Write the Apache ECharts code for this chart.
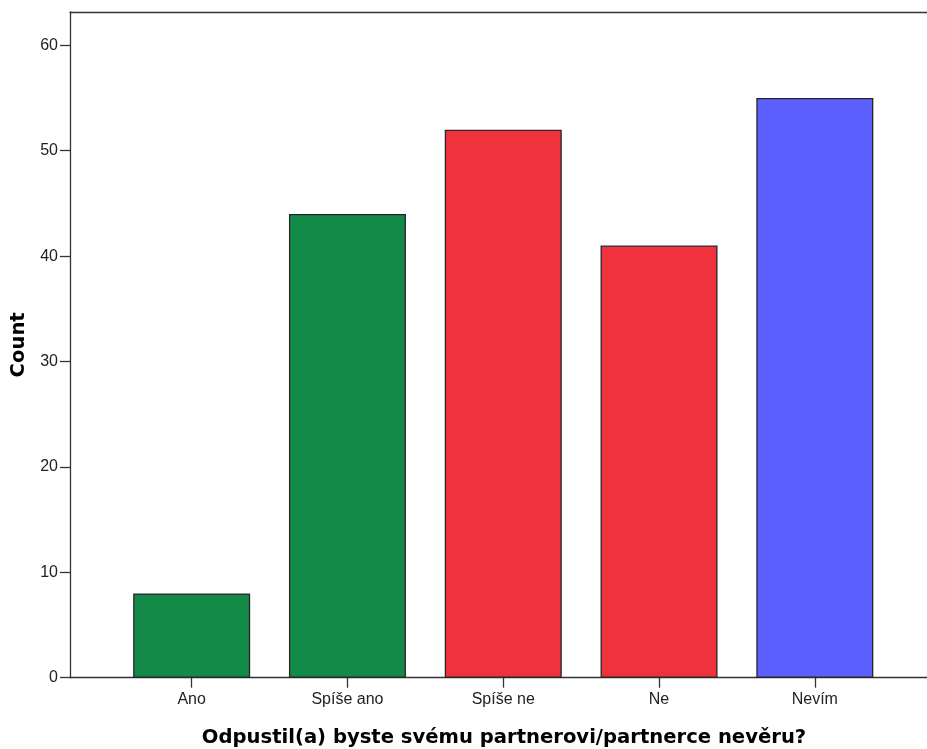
<!DOCTYPE html>
<html>
<head>
<meta charset="utf-8">
<script src="https://cdn.jsdelivr.net/npm/echarts@6/dist/echarts.min.js"></script>
<style>
html,body{margin:0;padding:0;background:#fff;}
#chart{width:927px;height:749px;}
</style>
</head>
<body>
<div id="chart"></div>
<script>
var categories = ["Ano", "Spíše ano", "Spíše ne", "Ne", "Nevím"];
var counts = [8, 44, 52, 41, 55];
var barColors = ["#138a48", "#138a48", "#f0323c", "#f0323c", "#5b60ff"];
var yTicks = [0, 10, 20, 30, 40, 50, 60];
var xTitle = "Odpustil(a) byste svému partnerovi/partnerce nevěru?";
var yTitle = "Count";

var catIdx = categories.map(function (c, i) { return i; });
var seriesData = counts.map(function (v, i) {
  return { value: [i, v], itemStyle: { color: barColors[i] } };
});

var axisColor = '#333';
var chart = echarts.init(document.getElementById('chart'), null, { renderer: 'canvas' });
chart.setOption({
  animation: false,
  backgroundColor: '#ffffff',
  grid: { left: 70, top: 12, right: 0, height: 665.7, show: false, containLabel: false, outerBoundsMode: 'none' },
  xAxis: [{
    type: 'value',
    min: -0.781, max: 4.72,
    name: xTitle,
    nameLocation: 'middle',
    nameGap: 50,
    nameTextStyle: { fontFamily: 'DejaVu Sans', fontWeight: 'bold', fontSize: 19.6, color: '#000', padding: [0, 0, 0, 11] },
    axisLine: { show: true, onZero: false, lineStyle: { color: axisColor, width: 1.3 } },
    axisTick: { show: true, length: 10, customValues: catIdx, lineStyle: { color: axisColor, width: 1.3 } },
    axisLabel: {
      show: true, customValues: catIdx, margin: 14,
      fontFamily: 'Liberation Sans', fontSize: 16, color: '#222',
      formatter: function (v) { return categories[Math.round(v)]; }
    },
    splitLine: { show: false }
  }, {
    type: 'value',
    position: 'top',
    min: -0.781, max: 4.72,
    axisLine: { show: true, onZero: false, lineStyle: { color: axisColor, width: 1.3 } },
    axisTick: { show: false },
    axisLabel: { show: false },
    splitLine: { show: false }
  }],
  yAxis: {
    type: 'value',
    min: 0, max: 63.16,
    name: yTitle,
    nameLocation: 'middle',
    nameRotate: 90,
    nameGap: 40,
    nameTextStyle: { fontFamily: 'DejaVu Sans', fontWeight: 'bold', fontSize: 19.6, color: '#000' },
    axisLine: { show: true, onZero: false, lineStyle: { color: axisColor, width: 1.3 } },
    axisTick: { show: true, length: 10, customValues: yTicks, lineStyle: { color: axisColor, width: 1.3 } },
    axisLabel: { show: true, customValues: yTicks, margin: 12, fontFamily: 'Liberation Sans', fontSize: 16, color: '#222' },
    splitLine: { show: false }
  },
  series: [{
    type: 'bar',
    xAxisIndex: 0,
    data: seriesData,
    barWidth: 117,
    itemStyle: { borderColor: '#262626', borderWidth: 1.3 }
  }]
});
</script>
</body>
</html>
